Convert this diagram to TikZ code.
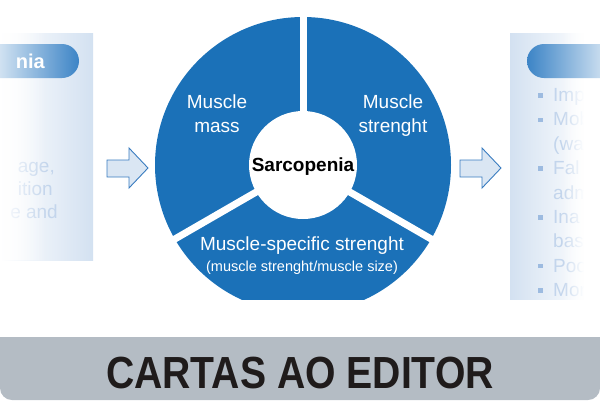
\documentclass[tikz,border=0pt]{standalone}
\usepackage{fontspec}
\setmainfont{Liberation Sans}
\usetikzlibrary{fadings,calc}
\definecolor{segblue}{HTML}{1B71B8}
\definecolor{pillblue}{HTML}{3C84C6}
\definecolor{panelblue}{HTML}{D3E1F1}
\definecolor{paletext}{HTML}{C3D5EC}
\definecolor{bulletc}{HTML}{9DBBE0}
\definecolor{arrowfill}{HTML}{DAE6F3}
\definecolor{arrowline}{HTML}{3A7CC0}
\definecolor{bannergray}{HTML}{B4BCC4}
\definecolor{bannertext}{HTML}{1F1B1B}
\tikzfading[name=opaqueleft, left color=transparent!0, right color=transparent!100]
\tikzfading[name=opaqueright, left color=transparent!100, right color=transparent!0]
\tikzset{
  seglabel/.style={text=white, font=\fontsize{19}{19}\selectfont, anchor=base, inner sep=0pt},
  smalllabel/.style={text=white, font=\fontsize{14.5}{14.5}\selectfont, anchor=base, inner sep=0pt},
  fadetext/.style={text=paletext, font=\fontsize{19}{19}\selectfont, inner sep=0pt},
  blockarrow/.style={fill=arrowfill, draw=arrowline, line width=0.9pt, line join=miter},
  gap/.style={white, line width=7pt},
  bulletsq/.style={fill=bulletc, minimum size=4.5pt, inner sep=0pt}
}
\begin{document}
\begin{tikzpicture}[x=1pt,y=-1pt]
\useasboundingbox (0,0) rectangle (600,400);
\begin{scope}
\clip (0,0) rectangle (600,400);
% left panel
\shade[left color=white, right color=panelblue] (0,33) rectangle (93,260);
\node[fadetext, anchor=base east] (l1) at (55,172) {age,};
\node[fadetext, anchor=base east] (l2) at (53,195) {ition};
\node[fadetext, anchor=base east] (l3) at (58,218) {e and};
\fill[white, path fading=opaqueleft] (0,33) rectangle (46,260);
\shade[left color=white, right color=pillblue, rounded corners=17pt] (-25,44) rectangle (79,78);
\node[text=white, font=\bfseries\fontsize{20}{20}\selectfont, anchor=base east, inner sep=0pt] (lpill) at (45,68) {nia};
% right panel
\shade[left color=panelblue, right color=white] (510,33) rectangle (590,312);
\fill[white] (589,33) rectangle (600,312);
\node[fadetext, anchor=base west] (r1) at (553,101.4) {Imp};
\node[fadetext, anchor=base west] (r2) at (553,125.8) {Mob};
\node[fadetext, anchor=base west] (r3) at (553,150.2) {(wa};
\node[fadetext, anchor=base west] (r4) at (553,174.6) {Fal};
\node[fadetext, anchor=base west] (r5) at (553,199.0) {adm};
\node[fadetext, anchor=base west] (r6) at (553,223.4) {Ina};
\node[fadetext, anchor=base west] (r7) at (553,247.8) {bas};
\node[fadetext, anchor=base west] (r8) at (553,272.2) {Poo};
\node[fadetext, anchor=base west] (r9) at (553,296.6) {Mor};
\node[bulletsq] (b1) at (540.5,95.4) {};
\node[bulletsq] (b2) at (540.5,119.8) {};
\node[bulletsq] (b4) at (540.5,168.6) {};
\node[bulletsq] (b6) at (540.5,217.4) {};
\node[bulletsq] (b8) at (540.5,266.2) {};
\node[bulletsq] (b9) at (540.5,290.6) {};
\fill[white, path fading=opaqueright] (562,33) rectangle (584,312);
\fill[white] (583.5,33) rectangle (600,312);
\shade[left color=pillblue, right color=white, rounded corners=17pt] (527,44) rectangle (630,78);
% arrows
\draw[blockarrow] (107,160) -- (129,160) -- (129,148) -- (148,168) -- (129,188) -- (129,177) -- (107,177) -- cycle;
\draw[blockarrow] (460,160) -- (482,160) -- (482,148) -- (501,168) -- (482,188) -- (482,177) -- (460,177) -- cycle;
% ring
\coordinate (c) at (303,165);
\fill[segblue] (c) circle[radius=148pt];
\coordinate (gtop) at (303,10);
\coordinate (gleft) at (168.8,242.5);
\coordinate (gright) at (437.2,242.5);
\draw[gap] (c) -- (gtop);
\draw[gap] (c) -- (gleft);
\draw[gap] (c) -- (gright);
\fill[white] (c) circle[radius=54pt];
\node[text=black, font=\bfseries\fontsize{19}{19}\selectfont, anchor=base, inner sep=0pt] (sarc) at (303,171.5) {Sarcopenia};
\node[seglabel] (mm1) at (217,108) {Muscle};
\node[seglabel] (mm2) at (217,132) {mass};
\node[seglabel] (ms1) at (393,108) {Muscle};
\node[seglabel] (ms2) at (393,132) {strenght};
\node[seglabel] (mss) at (302,250) {Muscle-specific strenght};
\node[smalllabel] (mss2) at (302,271) {(muscle strenght/muscle size)};
% banner
\fill[bannergray, rounded corners=12pt] (0,320) -- (600,320) -- (600,400) -- (0,400) -- cycle;
\fill[white] (0,300) rectangle (600,337);
\node[text=bannertext, font=\bfseries\fontsize{45}{45}\selectfont, anchor=base, inner sep=0pt] (banner) at (300,388.5) {\scalebox{0.87}[1]{CARTAS AO EDITOR}};
\end{scope}
\end{tikzpicture}
\end{document}
